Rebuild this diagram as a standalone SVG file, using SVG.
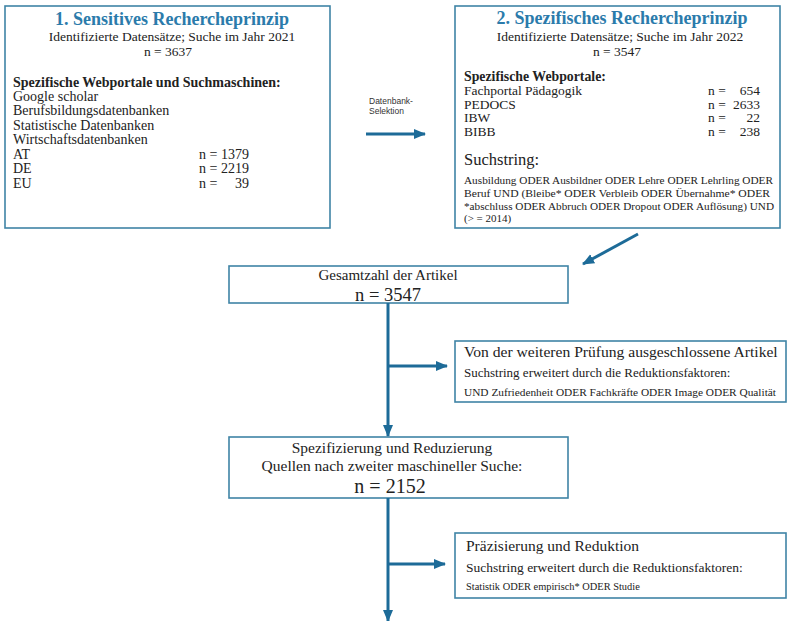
<svg xmlns="http://www.w3.org/2000/svg" width="787" height="621" viewBox="0 0 787 621">
<defs>
<marker id="ah" markerUnits="userSpaceOnUse" markerWidth="12" markerHeight="12" viewBox="0 0 12 12" refX="11" refY="6" orient="auto">
<path d="M0,1 L12,6 L0,11 Z" fill="#1d6b98"/>
</marker>
<style>
.box{fill:#fff;stroke:#3f84a6;stroke-width:1.6}
.t{font-family:"Liberation Serif","Times New Roman",serif;fill:#222}
.title{font-family:"Liberation Serif","Times New Roman",serif;font-weight:bold;fill:#2b7bab;font-size:18px}
.b{font-weight:bold}
.c{text-anchor:middle}
.e{text-anchor:end}
.s{font-family:"Liberation Sans",Arial,sans-serif;fill:#333;font-size:8.5px}
.con{stroke:#1d6b98;stroke-width:3;fill:none}
</style>
</defs>
<rect width="787" height="621" fill="#fff"/>

<g id="node-sensitiv">
<rect class="box" x="5" y="6" width="325" height="222"/>
<text class="title c" x="172" y="25">1. Sensitives Rechercheprinzip</text>
<text class="t c" x="172" y="41" font-size="13.5">Identifizierte Datensätze; Suche im Jahr 2021</text>
<text class="t c" x="168" y="56" font-size="13.5">n = 3637</text>
<text class="t b" x="13" y="87" font-size="14">Spezifische Webportale und Suchmaschinen:</text>
<text class="t" x="13" y="101" font-size="14">Google scholar</text>
<text class="t" x="13" y="115" font-size="14">Berufsbildungsdatenbanken</text>
<text class="t" x="13" y="130" font-size="14">Statistische Datenbanken</text>
<text class="t" x="13" y="144" font-size="14">Wirtschaftsdatenbanken</text>
<text class="t" x="13" y="159" font-size="14">AT</text>
<text class="t" x="13" y="173" font-size="14">DE</text>
<text class="t" x="13" y="188" font-size="14">EU</text>
<text class="t" x="199" y="159" font-size="14">n =</text>
<text class="t e" x="249" y="159" font-size="14">1379</text>
<text class="t" x="199" y="173" font-size="14">n =</text>
<text class="t e" x="249" y="173" font-size="14">2219</text>
<text class="t" x="199" y="188" font-size="14">n =</text>
<text class="t e" x="249" y="188" font-size="14">39</text>
</g>

<g id="node-spezifisch">
<rect class="box" x="455" y="6" width="325" height="222"/>
<text class="title c" x="622" y="24">2. Spezifisches Rechercheprinzip</text>
<text class="t c" x="620" y="41" font-size="13.5">Identifizierte Datensätze; Suche im Jahr 2022</text>
<text class="t c" x="617" y="56" font-size="13.5">n = 3547</text>
<text class="t b" x="464" y="81" font-size="13.8">Spezifische Webportale:</text>
<text class="t" x="464" y="95" font-size="13.5">Fachportal Pädagogik</text>
<text class="t" x="464" y="108.5" font-size="13.5">PEDOCS</text>
<text class="t" x="464" y="122" font-size="13.5">IBW</text>
<text class="t" x="464" y="135.5" font-size="13.5">BIBB</text>
<text class="t" x="708" y="95" font-size="13.5">n =</text>
<text class="t e" x="760" y="95" font-size="13.5">654</text>
<text class="t" x="708" y="108.5" font-size="13.5">n =</text>
<text class="t e" x="760" y="108.5" font-size="13.5">2633</text>
<text class="t" x="708" y="122" font-size="13.5">n =</text>
<text class="t e" x="760" y="122" font-size="13.5">22</text>
<text class="t" x="708" y="135.5" font-size="13.5">n =</text>
<text class="t e" x="760" y="135.5" font-size="13.5">238</text>
<text class="t" x="464" y="165" font-size="16.5">Suchstring:</text>
<text class="t" x="464" y="184" font-size="11" textLength="309" lengthAdjust="spacingAndGlyphs">Ausbildung ODER Ausbildner ODER Lehre ODER Lehrling ODER</text>
<text class="t" x="464" y="197" font-size="11" textLength="306" lengthAdjust="spacingAndGlyphs">Beruf UND (Bleibe* ODER Verbleib ODER Übernahme* ODER</text>
<text class="t" x="464" y="210" font-size="11" textLength="310" lengthAdjust="spacingAndGlyphs">*abschluss ODER Abbruch ODER Dropout ODER Auflösung) UND</text>
<text class="t" x="464" y="222" font-size="11">(&gt; = 2014)</text>
</g>

<g id="label-datenbank">
<text class="s" x="369" y="104">Datenbank-</text>
<text class="s" x="369" y="114">Selektion</text>
</g>

<g id="node-gesamt">
<rect class="box" x="229" y="266" width="339" height="37"/>
<text class="t c" x="388" y="280" font-size="15">Gesamtzahl der Artikel</text>
<text class="t c" x="388" y="301" font-size="18.5">n = 3547</text>
</g>

<g id="node-ausgeschlossen">
<rect class="box" x="455" y="341" width="331" height="61"/>
<text class="t" x="464" y="357" font-size="15.6">Von der weiteren Prüfung ausgeschlossene Artikel</text>
<text class="t" x="464" y="377" font-size="13">Suchstring erweitert durch die Reduktionsfaktoren:</text>
<text class="t" x="464" y="396" font-size="10.5" textLength="312" lengthAdjust="spacingAndGlyphs">UND Zufriedenheit ODER Fachkräfte ODER Image ODER Qualität</text>
</g>

<g id="node-spezifizierung">
<rect class="box" x="229" y="437" width="339" height="61"/>
<text class="t c" x="392" y="453" font-size="15.5">Spezifizierung und Reduzierung</text>
<text class="t c" x="392" y="471" font-size="15.5">Quellen nach zweiter maschineller Suche:</text>
<text class="t c" x="390" y="493" font-size="20">n = 2152</text>
</g>

<g id="node-praezisierung">
<rect class="box" x="455" y="533" width="331" height="65"/>
<text class="t" x="466" y="551" font-size="15.5">Präzisierung und Reduktion</text>
<text class="t" x="466" y="572" font-size="13.5">Suchstring erweitert durch die Reduktionsfaktoren:</text>
<text class="t" x="466" y="590" font-size="10.4">Statistik ODER empirisch* ODER Studie</text>
</g>

<g id="connectors">
<line class="con" x1="366" y1="134" x2="425" y2="134" marker-end="url(#ah)"/>
<line class="con" x1="638" y1="234" x2="583" y2="264" marker-end="url(#ah)"/>
<line class="con" x1="388" y1="303" x2="388" y2="436" marker-end="url(#ah)"/>
<line class="con" x1="388" y1="366" x2="447" y2="366" marker-end="url(#ah)"/>
<line class="con" x1="388" y1="498" x2="388" y2="621" marker-end="url(#ah)"/>
<line class="con" x1="388" y1="564" x2="445" y2="564" marker-end="url(#ah)"/>
</g>
</svg>
